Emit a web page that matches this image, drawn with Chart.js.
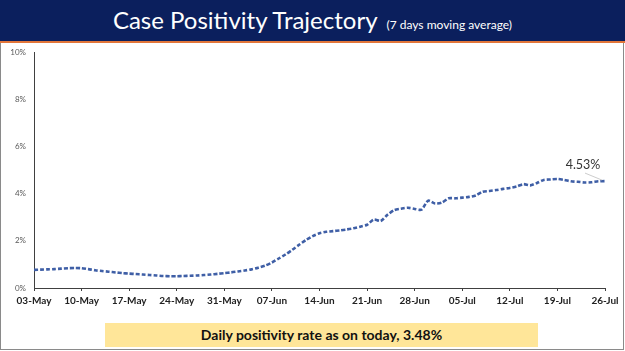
<!DOCTYPE html>
<html><head><meta charset="utf-8">
<script src="https://cdn.jsdelivr.net/npm/chart.js@4"></script>
<style>
html,body{margin:0;padding:0;width:625px;height:351px;overflow:hidden;background:#fff}
#wrap{position:relative;width:625px;height:351px}
#frame{position:absolute;left:0;top:42px;width:622px;height:307px;border:1px solid #8a8a8a;border-top:none}
#title{position:absolute;left:0;top:0;width:625px;height:41px;background:#0b1f5d;border-bottom:2px solid #e2763a;display:flex;justify-content:center;align-items:baseline;box-sizing:content-box;padding-top:0}
#titleInner{display:flex;align-items:baseline;margin-top:5px;margin-left:0}
#t1{color:#fff;font-family:Lato,'Open Sans',sans-serif;font-size:24px;white-space:nowrap}
#t2{color:#fff;font-family:Lato,'Open Sans',sans-serif;font-size:12px;white-space:nowrap;margin-left:9px}
#foot{position:absolute;left:105px;top:323px;width:433px;height:24px;background:#ffe699;color:#111;font-family:Lato,'Open Sans',sans-serif;font-weight:bold;font-size:14px;line-height:24px;text-align:center}
canvas{position:absolute;left:0;top:0}
</style></head>
<body><div id="wrap">
<div id="frame"></div>
<canvas id="c" width="625" height="351"></canvas>
<div id="title"><div id="titleInner"><span id="t1"></span><span id="t2"></span></div></div>
<div id="foot"></div>
</div>
<script>
const titleMain = 'Case Positivity Trajectory';
const titleSub = '(7 days moving average)';
const footerText = 'Daily positivity rate as on today, 3.48%';
const lastLabel = '4.53%';
const categories = [
'03-May','04-May','05-May','06-May','07-May','08-May','09-May','10-May','11-May','12-May','13-May','14-May','15-May','16-May','17-May','18-May','19-May','20-May','21-May','22-May','23-May','24-May','25-May','26-May','27-May','28-May','29-May','30-May','31-May',
'01-Jun','02-Jun','03-Jun','04-Jun','05-Jun','06-Jun','07-Jun','08-Jun','09-Jun','10-Jun','11-Jun','12-Jun','13-Jun','14-Jun','15-Jun','16-Jun','17-Jun','18-Jun','19-Jun','20-Jun','21-Jun','22-Jun','23-Jun','24-Jun','25-Jun','26-Jun','27-Jun','28-Jun','29-Jun','30-Jun',
'01-Jul','02-Jul','03-Jul','04-Jul','05-Jul','06-Jul','07-Jul','08-Jul','09-Jul','10-Jul','11-Jul','12-Jul','13-Jul','14-Jul','15-Jul','16-Jul','17-Jul','18-Jul','19-Jul','20-Jul','21-Jul','22-Jul','23-Jul','24-Jul','25-Jul','26-Jul'];
const positivity = [
0.77,0.78,0.79,0.80,0.82,0.84,0.85,0.84,0.80,0.75,0.72,0.69,0.66,0.63,0.61,0.59,0.57,0.55,0.53,0.51,0.50,
0.50,0.51,0.52,0.53,0.55,0.57,0.60,0.63,0.66,0.70,0.74,0.79,0.86,0.95,1.08,1.25,1.42,1.62,1.83,2.03,2.20,
2.32,2.38,2.41,2.44,2.48,2.53,2.60,2.68,2.90,2.84,3.10,3.30,3.36,3.40,3.35,3.32,3.70,3.58,3.62,3.80,3.80,
3.83,3.86,3.92,4.08,4.11,4.15,4.20,4.24,4.30,4.40,4.35,4.45,4.58,4.60,4.62,4.58,4.52,4.50,4.47,4.48,4.52,4.53];
const tickLabels = ['03-May','10-May','17-May','24-May','31-May','07-Jun','14-Jun','21-Jun','28-Jun','05-Jul','12-Jul','19-Jul','26-Jul'];
const yTicks = [0,2,4,6,8,10];

document.getElementById('t1').textContent = titleMain;
document.getElementById('t2').textContent = titleSub;
document.getElementById('foot').textContent = footerText;

const lastLabelPlugin = {
  id: 'lastLabel',
  afterDatasetsDraw(chart) {
    const meta = chart.getDatasetMeta(0);
    const pt = meta.data[meta.data.length - 1];
    const ctx = chart.ctx;
    ctx.save();
    ctx.strokeStyle = '#bfbfbf';
    ctx.lineWidth = 0.8;
    ctx.beginPath();
    ctx.moveTo(pt.x - 20, pt.y - 8);
    ctx.lineTo(pt.x - 3, pt.y - 1);
    ctx.stroke();
    ctx.fillStyle = '#333333';
    ctx.font = '12.5px Lato, "Open Sans", sans-serif';
    ctx.textAlign = 'center';
    ctx.textBaseline = 'middle';
    ctx.fillText(lastLabel, pt.x - 22, pt.y - 16);
    ctx.restore();
  }
};

new Chart(document.getElementById('c'), {
  type: 'line',
  data: {
    labels: categories,
    datasets: [{
      data: positivity,
      borderColor: '#3f5fa6',
      borderWidth: 2.6,
      borderDash: [4, 2],
      pointRadius: 0,
      tension: 0.25,
      fill: false
    }]
  },
  options: {
    responsive: false,
    animation: false,
    layout: { padding: { left: 0, top: 52, right: 20, bottom: 0 } },
    plugins: { legend: { display: false }, tooltip: { enabled: false } },
    scales: {
      x: {
        type: 'category',
        offset: false,
        afterFit(s) { s.height = 63; },
        grid: {
          display: true, drawOnChartArea: false, drawTicks: true, tickLength: 3,
          tickColor: (c) => tickLabels.includes(categories[c.index]) ? '#404040' : 'rgba(0,0,0,0)'
        },
        border: { display: true, color: '#404040', width: 1 },
        ticks: {
          autoSkip: false, maxRotation: 0, minRotation: 0, padding: 4,
          color: '#222222',
          font: { family: 'Lato, "Open Sans", sans-serif', size: 10, weight: 'bold' },
          callback: (v, i) => tickLabels.includes(categories[i]) ? categories[i] : ''
        }
      },
      y: {
        min: 0, max: 10,
        afterFit(s) { s.width = 34; },
        afterBuildTicks(s) { s.ticks = yTicks.map(v => ({ value: v })); },
        grid: { display: false, drawTicks: false },
        border: { display: true, color: '#404040', width: 1 },
        ticks: {
          padding: 8, color: '#595959',
          font: { family: 'Lato, "Open Sans", sans-serif', size: 8 },
          callback: (v) => v + '%'
        }
      }
    }
  },
  plugins: [lastLabelPlugin]
});
</script>
</body></html>
